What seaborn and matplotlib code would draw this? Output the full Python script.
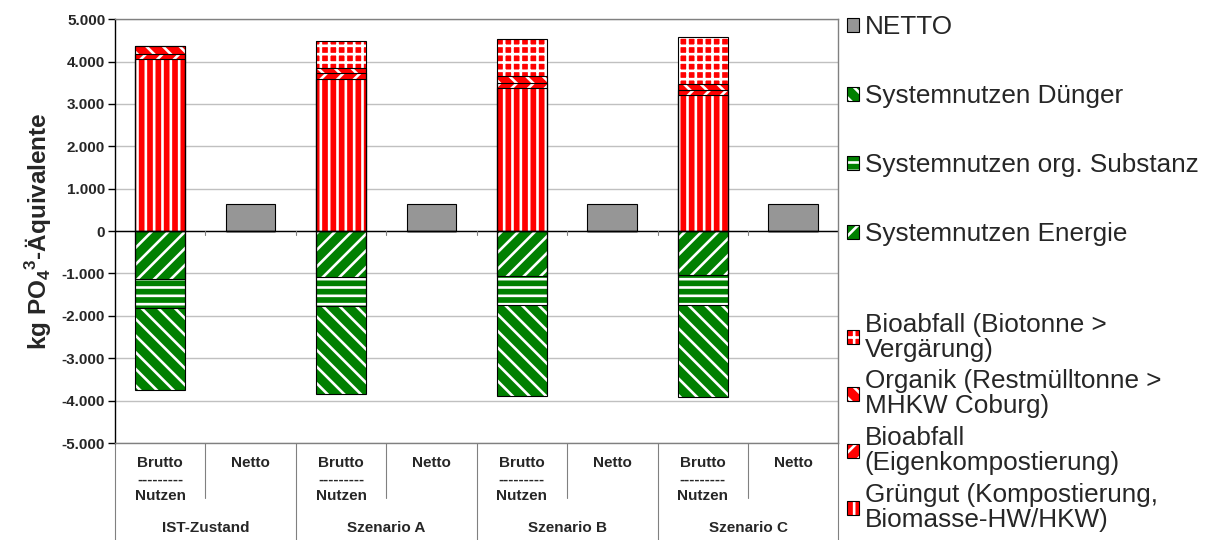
import numpy as np
import pandas as pd
import seaborn as sns
import matplotlib.pyplot as plt
import matplotlib.patches as mpatches
from matplotlib.ticker import FuncFormatter

# --- Daten (kg PO4-Äquivalente) ---
szenarien = ['IST-Zustand', 'Szenario A', 'Szenario B', 'Szenario C']
gruengut = [4050, 3580, 3370, 3200]
bio_eigen = [130, 140, 130, 130]
organik = [190, 130, 150, 140]
bio_vergaerung = [0, 630, 870, 1100]
nutzen_energie = [-1120, -1080, -1070, -1030]
nutzen_org = [-700, -690, -680, -710]
nutzen_duenger = [-1930, -2070, -2140, -2180]
netto = [650, 640, 640, 630]

lab_gruen = 'Grüngut (Kompostierung,\nBiomasse-HW/HKW)'
lab_eigen = 'Bioabfall\n(Eigenkompostierung)'
lab_org = 'Organik (Restmülltonne >\nMHKW Coburg)'
lab_verg = 'Bioabfall (Biotonne >\nVergärung)'
lab_energie = 'Systemnutzen Energie'
lab_orgsub = 'Systemnutzen org. Substanz'
lab_duenger = 'Systemnutzen Dünger'
lab_netto = 'NETTO'

RED = '#ff0000'
GREEN = '#008000'
GREY = '#969696'

plt.rcParams['hatch.linewidth'] = 1.9
sns.set_style('white')
plt.rcParams['font.family'] = ['Liberation Sans', 'DejaVu Sans']
plt.rcParams['mathtext.fontset'] = 'custom'
plt.rcParams['mathtext.rm'] = 'Liberation Sans'
plt.rcParams['mathtext.bf'] = 'Liberation Sans:bold'

# 8 Positionen: Brutto / Netto je Szenario
slots = []
for s in szenarien:
    slots += [s + '|Brutto', s + '|Netto']


def auf_slots(vals, netto_slot=False):
    out = []
    for v in vals:
        out += [0, v] if netto_slot else [v, 0]
    return np.array(out, dtype=float)


fig = plt.figure(figsize=(12.05, 5.4), dpi=100)
ax = fig.add_axes([0.0954, 0.1796, 0.6004, 0.785])

W = 0.55

# positive Stapel (unten -> oben)
pos_layers = [(gruengut, RED, '||'), (bio_eigen, RED, '//'),
              (organik, RED, '\\\\'), (bio_vergaerung, RED, '++')]
# negative Stapel (von 0 nach unten)
neg_layers = [(nutzen_energie, GREEN, '//'), (nutzen_org, GREEN, '--'),
              (nutzen_duenger, GREEN, '\\\\')]

for layers in (pos_layers, neg_layers):
    cum = np.cumsum([auf_slots(v) for v, _, _ in layers], axis=0)
    # größte Summe zuerst zeichnen, kleinere darüber
    for i in range(len(layers) - 1, -1, -1):
        _, col, h = layers[i]
        sns.barplot(x=slots, y=cum[i], order=slots, color=col, saturation=1,
                    width=W, errorbar=None, edgecolor='white', linewidth=0,
                    hatch=h, ax=ax, zorder=2)
    for i in range(len(layers) - 1, -1, -1):
        sns.barplot(x=slots, y=cum[i], order=slots, fill=False, color='black',
                    width=W, errorbar=None, linewidth=0.8, ax=ax, zorder=3)

sns.barplot(x=slots, y=auf_slots(netto, netto_slot=True), order=slots,
            color=GREY, saturation=1, width=W, errorbar=None,
            edgecolor='black', linewidth=0.8, ax=ax, zorder=2)

# Achsen
ax.set_ylim(-5000, 5000)
ax.set_xlim(-0.5, len(slots) - 0.5)
ax.set_yticks(np.arange(-5000, 5001, 1000))
ax.yaxis.set_major_formatter(FuncFormatter(lambda v, p: f'{v:,.0f}'.replace(',', '.')))
ax.yaxis.grid(True, color='#c0c0c0', linewidth=1)
ax.set_axisbelow(True)
ax.axhline(0, color='black', linewidth=1, zorder=1.5)
for yl in ax.get_yticklabels():
    yl.set_fontweight('bold')
ax.tick_params(axis='y', labelsize=11, length=5, width=1, color='black',
               left=True, pad=2)
ax.set_ylabel(r'kg PO$_\mathbf{4}$$^\mathbf{3}$-Äquivalente', fontsize=17.5,
              fontweight='bold', labelpad=6)
ax.set_xlabel('')

for side in ['top', 'right', 'bottom']:
    ax.spines[side].set_color('#808080')
ax.spines['left'].set_color('black')
for sp in ax.spines.values():
    sp.set_linewidth(1)

xlabels = []
for s in szenarien:
    xlabels += ['Brutto\n---------\nNutzen', 'Netto']
ax.set_xticks(range(len(slots)))
ax.set_xticklabels(xlabels, fontsize=11, fontweight='bold', linespacing=1.25)
ax.tick_params(axis='x', length=0, pad=9)

# Kategorie-Trennlinien und Szenarien
trans = ax.get_xaxis_transform()
for k in range(len(slots) + 1):
    xb = k - 0.5
    y_end = -0.23 if k % 2 == 0 else -0.13
    ax.plot([xb, xb], [0, y_end], transform=trans, color='#808080',
            linewidth=0.8, clip_on=False)
    if 0 < k < len(slots):
        ax.plot([xb, xb], [0, -90], color='#808080', linewidth=0.8, zorder=1.5)
for j, s in enumerate(szenarien):
    ax.text(2 * j + 0.5, -0.2, s, transform=trans, ha='center', va='center',
            fontsize=11, fontweight='bold')

# Legende
def handle(col, h):
    fill = mpatches.Patch(facecolor=col, edgecolor='white', linewidth=0, hatch=h)
    rim = mpatches.Patch(facecolor='none', edgecolor='black', linewidth=0.8)
    return (fill, rim)


h1 = [handle(GREY, None), handle(GREEN, '\\\\'), handle(GREEN, '--'),
      handle(GREEN, '//')]
l1 = [lab_netto, lab_duenger, lab_orgsub, lab_energie]
h2 = [handle(RED, '++'), handle(RED, '\\\\'), handle(RED, '//'),
      handle(RED, '||')]
l2 = [lab_verg, lab_org, lab_eigen, lab_gruen]

leg_kw = dict(frameon=False, fontsize=18.8, handlelength=0.45, handleheight=0.45,
              handletextpad=0.22, borderpad=0, borderaxespad=0, loc='upper left')
leg1 = fig.legend(h1, l1, bbox_to_anchor=(0.703, 0.972), labelspacing=1.72, **leg_kw)
leg2 = fig.legend(h2, l2, bbox_to_anchor=(0.703, 0.421), labelspacing=0.3, **leg_kw)
for t in leg2.get_texts():
    t.set_linespacing(1.05)

plt.savefig('out.png', dpi=100)
